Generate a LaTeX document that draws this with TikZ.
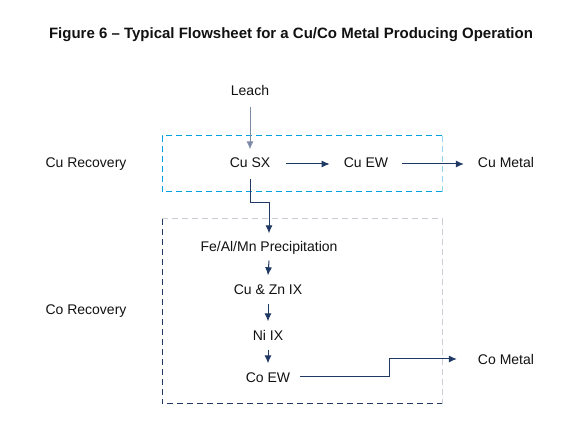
\documentclass[tikz,border=0pt]{standalone}
\usepackage{fontspec}
\setmainfont{Liberation Sans}
\usetikzlibrary{arrows.meta,calc}
\definecolor{navy}{RGB}{31,56,100}
\definecolor{leachline}{RGB}{125,138,168}
\definecolor{cuframe}{RGB}{0,162,226}
\definecolor{cuframelight}{RGB}{150,212,238}
\definecolor{coframe}{RGB}{200,204,214}
\definecolor{ink}{RGB}{17,17,17}
\tikzset{>={Latex[length=8pt,width=7pt]}}
\tikzset{
  unit/.style={inner sep=0pt, text height=10pt, text depth=3pt, text=ink,
    font=\fontsize{14}{16}\selectfont},
  flow/.style={->, draw=navy, line width=1pt},
  frame/.style={line width=1pt, dash pattern=on 6pt off 4pt}
}

\begin{document}
\begin{tikzpicture}[x=1pt,y=-1pt]
    \useasboundingbox (0,0) rectangle (582,435);
    \node[text=ink, font=\fontsize{15}{18}\selectfont\bfseries] (title) at (291,35)
        {Figure 6 – Typical Flowsheet for a Cu/Co Metal Producing Operation};

    % recovery frames
    \draw[frame, cuframe] (442,136) -- (162,136) -- (162,192) -- (442,192);
    \draw[frame, cuframelight] (442,136) -- (442,192);
    \draw[frame, navy] (162,219) -- (162,404) -- (442,404);
    \draw[frame, coframe] (162,219) -- (442,219) -- (442,404);

    \node[unit] (curec) at (86,164) {Cu Recovery};
    \node[unit] (corec) at (86,311) {Co Recovery};

    % copper circuit
    \node[unit] (leach) at (250,92) {Leach};
    \node[unit] (cusx) at (250,164) {Cu SX};
    \node[unit] (cuew) at (366,164) {Cu EW};
    \node[unit] (cumetal) at (506,164) {Cu Metal};

    % cobalt circuit
    \node[unit] (precip) at (269,248) {Fe/Al/Mn Precipitation};
    \node[unit] (cuznix) at (268,291) {Cu \& Zn IX};
    \node[unit] (niix) at (268,337) {Ni IX};
    \node[unit] (coew) at (268,379) {Co EW};
    \node[unit] (cometal) at (506,361) {Co Metal};

    \draw[flow, draw=leachline] ([yshift=-8pt]leach.south) -- ([yshift=8pt]cusx.north);
    \draw[flow] ([xshift=16pt]cusx.east) -- ([xshift=-14pt]cuew.west);
    \draw[flow] ([xshift=14pt]cuew.east) -- ([xshift=-14pt]cumetal.west);
    \draw[flow] ([yshift=-8pt]cusx.south) -- ++(0,24) -| ([yshift=8pt]precip.north);
      \draw[flow] ([yshift=-6pt]precip.south) -- ([yshift=9pt]cuznix.north);
      \draw[flow] ([yshift=-6pt]cuznix.south) -- ([yshift=9pt]niix.north);
      \draw[flow] ([yshift=-6pt]niix.south) -- ([yshift=9pt]coew.north);
    \draw[flow] ([xshift=10pt,yshift=2pt]coew.east) -- ++(89,0) |- ([xshift=-21pt,yshift=2pt]cometal.west);
\end{tikzpicture}
\end{document}
